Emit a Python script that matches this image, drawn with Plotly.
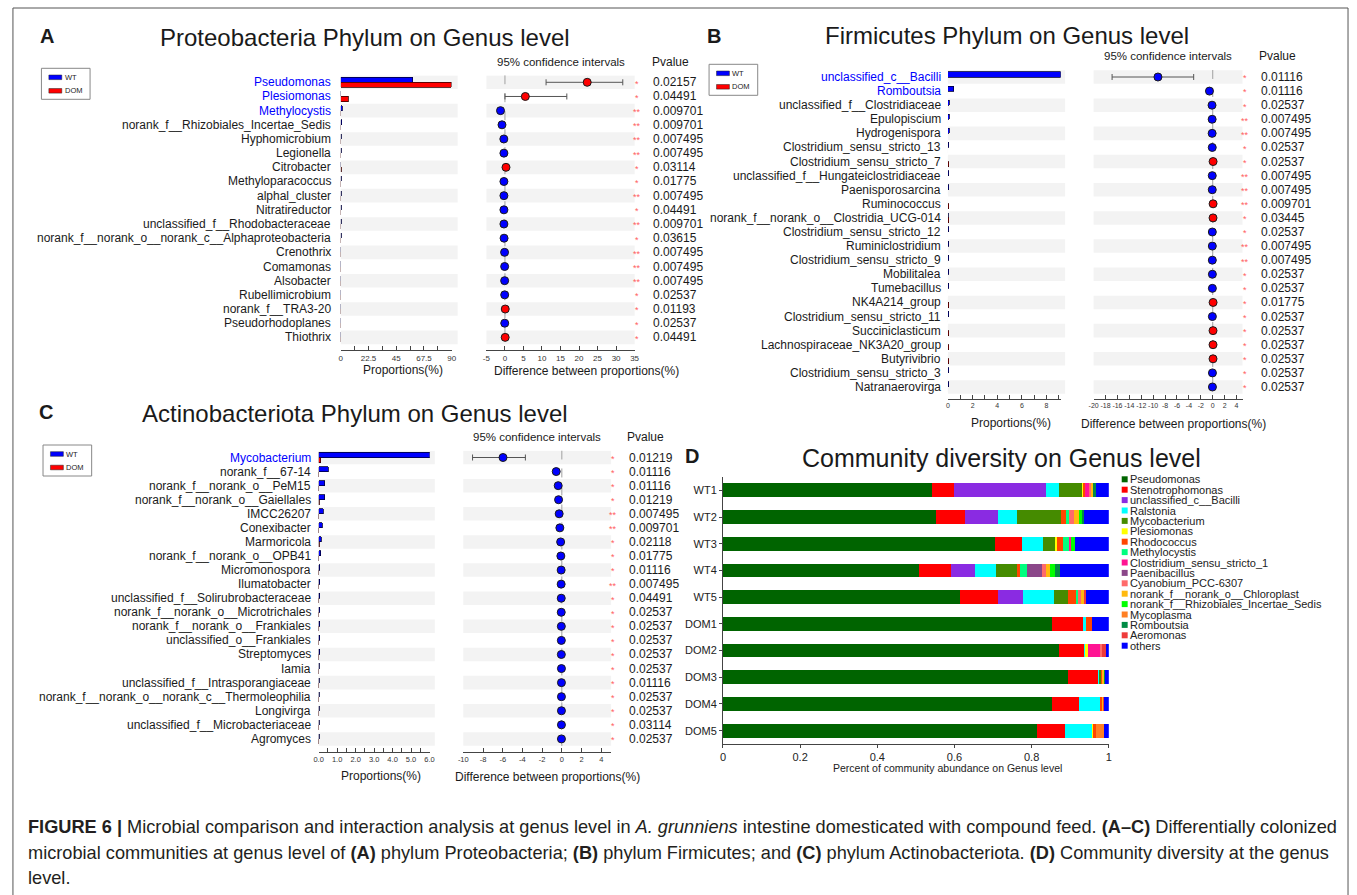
import plotly.graph_objects as go

W, H = 1357, 895
FONT = "Liberation Sans, Arial, Helvetica, sans-serif"
BLUE = "#0000FF"
RED = "#FF0000"
INK = "#1a1a1a"


def px(x):
    return x / W


def py(y):
    return 1 - y / H


# ---------------- Panel A: Proteobacteria ----------------
a_genus = ["Pseudomonas", "Plesiomonas", "Methylocystis", "norank_f__Rhizobiales_Incertae_Sedis",
           "Hyphomicrobium", "Legionella", "Citrobacter", "Methyloparacoccus", "alphal_cluster",
           "Nitratireductor", "unclassified_f__Rhodobacteraceae",
           "norank_f__norank_o__norank_c__Alphaproteobacteria", "Crenothrix", "Comamonas",
           "Alsobacter", "Rubellimicrobium", "norank_f__TRA3-20", "Pseudorhodoplanes", "Thiothrix"]
a_wt = [58.2, 0.1, 1.3, 0.8, 0.35, 0.3, 0.02, 0.3, 0.3, 0.3, 0.3, 0.25, 0.1, 0.08, 0.08, 0.07, 0.0, 0.06, 0.0]
a_dom = [89.8, 6.2, 0.05, 0.03, 0.02, 0.02, 0.3, 0.01, 0.01, 0.01, 0.01, 0.01, 0.0, 0.0, 0.0, 0.0, 0.08, 0.0, 0.06]
a_diff = [22.2, 5.5, -1.2, -0.8, -0.3, -0.28, 0.28, -0.28, -0.28, -0.28, -0.28, -0.24, -0.1, -0.08,
          -0.08, -0.07, 0.08, -0.06, 0.06]
a_lo = [11.1, 0.0, -1.9, -1.3, -0.5, -0.45, 0.1, -0.45, -0.45, -0.45, -0.45, -0.4, -0.18, -0.14,
        -0.14, -0.12, 0.02, -0.11, 0.01]
a_hi = [31.8, 16.7, -0.5, -0.3, -0.1, -0.1, 0.45, -0.1, -0.1, -0.1, -0.1, -0.08, -0.02, -0.02,
        -0.02, -0.02, 0.14, -0.01, 0.11]
a_pval = ["0.02157", "0.04491", "0.009701", "0.009701", "0.007495", "0.007495", "0.03114", "0.01775",
          "0.007495", "0.04491", "0.009701", "0.03615", "0.007495", "0.007495", "0.007495", "0.02537",
          "0.01193", "0.02537", "0.04491"]
a_highlight = ["Pseudomonas", "Plesiomonas", "Methylocystis"]
a_ticks = [0, 11.25, 22.5, 33.75, 45, 56.25, 67.5, 78.75, 90]
a_ticklabels = ["0", "", "22.5", "", "45", "", "67.5", "", "90"]
a_ci_ticks = [-5, 0, 5, 10, 15, 20, 25, 30, 35]

# ---------------- Panel B: Firmicutes ----------------
b_genus = ["unclassified_c__Bacilli", "Romboutsia", "unclassified_f__Clostridiaceae", "Epulopiscium",
           "Hydrogenispora", "Clostridium_sensu_stricto_13", "Clostridium_sensu_stricto_7",
           "unclassified_f__Hungateiclostridiaceae", "Paenisporosarcina", "Ruminococcus",
           "norank_f__norank_o__Clostridia_UCG-014", "Clostridium_sensu_stricto_12", "Ruminiclostridium",
           "Clostridium_sensu_stricto_9", "Mobilitalea", "Tumebacillus", "NK4A214_group",
           "Clostridium_sensu_stricto_11", "Succiniclasticum", "Lachnospiraceae_NK3A20_group",
           "Butyrivibrio", "Clostridium_sensu_stricto_3", "Natranaerovirga"]
b_wt = [9.15, 0.48, 0.12, 0.1, 0.1, 0.08, 0.0, 0.08, 0.08, 0.0, 0.03, 0.07, 0.07, 0.07, 0.06, 0.06,
        0.0, 0.06, 0.0, 0.0, 0.0, 0.05, 0.05]
b_dom = [0.0, 0.0, 0.0, 0.0, 0.0, 0.0, 0.06, 0.0, 0.0, 0.06, 0.08, 0.0, 0.0, 0.0, 0.0, 0.0,
         0.06, 0.0, 0.05, 0.05, 0.05, 0.0, 0.0]
b_diff = [-9.2, -0.55, -0.12, -0.1, -0.1, -0.08, 0.06, -0.08, -0.08, 0.06, 0.05, -0.07, -0.07, -0.07,
          -0.06, -0.06, 0.06, -0.06, 0.05, 0.05, 0.05, -0.05, -0.05]
b_lo = [-16.9, -0.85, -0.2, -0.17, -0.17, -0.14, 0.02, -0.14, -0.14, 0.02, 0.01, -0.12, -0.12, -0.12,
        -0.1, -0.1, 0.02, -0.1, 0.01, 0.01, 0.01, -0.09, -0.09]
b_hi = [-3.2, -0.25, -0.04, -0.03, -0.03, -0.02, 0.1, -0.02, -0.02, 0.1, 0.09, -0.02, -0.02, -0.02,
        -0.02, -0.02, 0.1, -0.02, 0.09, 0.09, 0.09, -0.01, -0.01]
b_pval = ["0.01116", "0.01116", "0.02537", "0.007495", "0.007495", "0.02537", "0.02537", "0.007495",
          "0.007495", "0.009701", "0.03445", "0.02537", "0.007495", "0.007495", "0.02537", "0.02537",
          "0.01775", "0.02537", "0.02537", "0.02537", "0.02537", "0.02537", "0.02537"]
b_highlight = ["unclassified_c__Bacilli", "Romboutsia"]
b_ticks = [0, 1, 2, 3, 4, 5, 6, 7, 8, 9]
b_ticklabels = ["0", "", "2", "", "4", "", "6", "", "8", ""]
b_ci_ticks = [-20, -18, -16, -14, -12, -10, -8, -6, -4, -2, 0, 2, 4]

# ---------------- Panel C: Actinobacteriota ----------------
c_genus = ["Mycobacterium", "norank_f__67-14", "norank_f__norank_o__PeM15", "norank_f__norank_o__Gaiellales",
           "IMCC26207", "Conexibacter", "Marmoricola", "norank_f__norank_o__OPB41", "Micromonospora",
           "Ilumatobacter", "unclassified_f__Solirubrobacteraceae", "norank_f__norank_o__Microtrichales",
           "norank_f__norank_o__Frankiales", "unclassified_o__Frankiales", "Streptomyces", "Iamia",
           "unclassified_f__Intrasporangiaceae", "norank_f__norank_o__norank_c__Thermoleophilia",
           "Longivirga", "unclassified_f__Microbacteriaceae", "Agromyces"]
c_wt = [6.0, 0.52, 0.34, 0.32, 0.25, 0.18, 0.13, 0.1, 0.07, 0.07, 0.06, 0.06, 0.05, 0.05, 0.05, 0.04,
        0.04, 0.04, 0.04, 0.04, 0.04]
c_dom = [0.12, 0.01, 0.0, 0.03, 0.0, 0.0, 0.04, 0.0, 0.0, 0.0, 0.0, 0.0, 0.0, 0.0, 0.0, 0.0,
         0.0, 0.0, 0.0, 0.0, 0.0]
c_diff = [-5.97, -0.57, -0.37, -0.33, -0.27, -0.2, -0.12, -0.1, -0.07, -0.07, -0.06, -0.06, -0.05,
          -0.05, -0.05, -0.04, -0.04, -0.04, -0.04, -0.04, -0.04]
c_lo = [-9.06, -0.78, -0.5, -0.46, -0.38, -0.29, -0.18, -0.15, -0.11, -0.11, -0.1, -0.1, -0.08,
        -0.08, -0.08, -0.07, -0.07, -0.07, -0.07, -0.07, -0.07]
c_hi = [-3.7, -0.36, -0.24, -0.2, -0.16, -0.11, -0.06, -0.05, -0.03, -0.03, -0.02, -0.02, -0.02,
        -0.02, -0.02, -0.01, -0.01, -0.01, -0.01, -0.01, -0.01]
c_pval = ["0.01219", "0.01116", "0.01116", "0.01219", "0.007495", "0.009701", "0.02118", "0.01775",
          "0.01116", "0.007495", "0.04491", "0.02537", "0.02537", "0.02537", "0.02537", "0.02537",
          "0.01116", "0.02537", "0.02537", "0.03114", "0.02537"]
c_highlight = ["Mycobacterium"]
c_ticks = [0, 0.5, 1, 1.5, 2, 2.5, 3, 3.5, 4, 4.5, 5, 5.5, 6]
c_ticklabels = ["0.0", "", "1.0", "", "2.0", "", "3.0", "", "4.0", "", "5.0", "", "6.0"]
c_ci_ticks = [-10, -8, -6, -4, -2, 0, 2, 4]

# ---------------- Panel D: community composition ----------------
d_samples = ["WT1", "WT2", "WT3", "WT4", "WT5", "DOM1", "DOM2", "DOM3", "DOM4", "DOM5"]
d_genus = ["Pseudomonas", "Stenotrophomonas", "unclassified_c__Bacilli", "Ralstonia", "Mycobacterium",
           "Plesiomonas", "Rhodococcus", "Methylocystis", "Clostridium_sensu_stricto_1", "Paenibacillus",
           "Cyanobium_PCC-6307", "norank_f__norank_o__Chloroplast", "norank_f__Rhizobiales_Incertae_Sedis",
           "Mycoplasma", "Romboutsia", "Aeromonas", "others"]
d_colors = ["#006400", "#FF0000", "#8A2BE2", "#00FFFF", "#458B00", "#FFFF00", "#FF4500", "#00FF7F",
            "#FF1493", "#8B4789", "#FF6A6A", "#FFB90F", "#00FF00", "#FF7F24", "#008B45", "#EE3B3B", "#0000FF"]
d_pseudomonas = [0.542, 0.553, 0.704, 0.508, 0.614, 0.853, 0.870, 0.895, 0.853, 0.814]
d_stenotrophomonas = [0.057, 0.075, 0.072, 0.084, 0.098, 0.080, 0.066, 0.078, 0.070, 0.073]
d_bacilli = [0.239, 0.086, 0.0, 0.061, 0.065, 0.0, 0.0, 0.0, 0.0, 0.0]
d_ralstonia = [0.032, 0.048, 0.053, 0.055, 0.082, 0.009, 0.004, 0.004, 0.056, 0.071]
d_mycobacterium = [0.062, 0.115, 0.033, 0.054, 0.036, 0.0, 0.0, 0.003, 0.0, 0.0]
d_plesiomonas = [0.002, 0.0, 0.003, 0.0, 0.0, 0.0, 0.005, 0.0, 0.0, 0.003]
d_rhodococcus = [0.005, 0.012, 0.015, 0.008, 0.021, 0.014, 0.0, 0.002, 0.005, 0.005]
d_methylocystis = [0.0, 0.008, 0.018, 0.019, 0.004, 0.0, 0.0, 0.0, 0.0, 0.0]
d_clostridium_1 = [0.012, 0.0, 0.004, 0.0, 0.0, 0.0, 0.033, 0.0, 0.0, 0.0]
d_paenibacillus = [0.0, 0.0, 0.0, 0.039, 0.0, 0.0, 0.0, 0.0, 0.0, 0.0]
d_cyanobium = [0.005, 0.014, 0.0, 0.009, 0.009, 0.0, 0.005, 0.0, 0.0, 0.0]
d_chloroplast = [0.004, 0.012, 0.0, 0.010, 0.008, 0.0, 0.0, 0.006, 0.003, 0.0]
d_rhizobiales = [0.0, 0.007, 0.010, 0.013, 0.0, 0.0, 0.0, 0.0, 0.0, 0.0]
d_mycoplasma = [0.0, 0.0, 0.0, 0.0, 0.0, 0.0, 0.0, 0.0, 0.0, 0.021]
d_romboutsia = [0.006, 0.006, 0.0, 0.013, 0.0, 0.0, 0.0, 0.002, 0.0, 0.0]
d_aeromonas = [0.0, 0.0, 0.0, 0.0, 0.003, 0.0, 0.010, 0.0, 0.001, 0.0]
d_others = [0.034, 0.064, 0.088, 0.127, 0.060, 0.044, 0.007, 0.010, 0.012, 0.013]
d_values = [d_pseudomonas, d_stenotrophomonas, d_bacilli, d_ralstonia, d_mycobacterium, d_plesiomonas,
            d_rhodococcus, d_methylocystis, d_clostridium_1, d_paenibacillus, d_cyanobium, d_chloroplast,
            d_rhizobiales, d_mycoplasma, d_romboutsia, d_aeromonas, d_others]
d_ticks = [0, 0.2, 0.4, 0.6, 0.8, 1.0]
d_ticklabels = ["0", "0.2", "0.4", "0.6", "0.8", "1"]

fig = go.Figure()
layout = dict(
    width=W, height=H, margin=dict(l=0, r=0, t=0, b=0),
    paper_bgcolor="white", plot_bgcolor="rgba(0,0,0,0)",
    barmode="stack", showlegend=False,
    font=dict(family=FONT, color=INK),
)
shapes = []
annotations = []


def text(x, y, s, size, xanchor="center", color=INK, yref=None, bold=False, family=FONT):
    if bold:
        s = "<b>" + s + "</b>"
    annotations.append(dict(
        x=px(x), y=(py(y) if yref is None else y), xref="paper", yref=(yref or "paper"),
        text=s, showarrow=False, xanchor=xanchor, yanchor="middle", borderpad=0,
        font=dict(size=size, color=color, family=family)))


def axis_style(**kw):
    base = dict(showgrid=False, zeroline=False, showline=True, linecolor="#444", linewidth=1,
                ticks="inside", ticklen=4, tickcolor="#444", tickwidth=1, fixedrange=True,
                tickangle=0)
    base.update(kw)
    return base


def plain_labels(values):
    # hyphen-minus labels, as printed by the original plotting tool
    return [("%g" % v) for v in values]


def stamp_panel(n_ax, genus, wt, dom, diff, lo, hi, pval, highlight, geo):
    xb, xc, yy = f"x{n_ax[0]}", f"x{n_ax[1]}", f"y{n_ax[2]}"
    xb_key, xc_key, yy_key = f"xaxis{n_ax[0]}", f"xaxis{n_ax[1]}", f"yaxis{n_ax[2]}"
    n = len(genus)
    rows = list(range(n))
    top = geo["yc0"] - 0.5 * geo["s"]
    bottom = geo["yc0"] + (n - 1 + geo["gap"]) * geo["s"]

    layout[yy_key] = dict(domain=[py(bottom), py(top)], range=[n - 1 + geo["gap"], -0.5],
                          visible=False, anchor=xb, fixedrange=True)
    layout[xb_key] = axis_style(domain=[px(geo["bx0"]), px(geo["bx1"])], range=geo["brange"],
                                anchor=yy, tickvals=geo["bticks"], ticktext=geo["blabels"],
                                tickfont=dict(size=geo["tfs"], color="#333"))
    layout[xc_key] = axis_style(domain=[px(geo["cx0"]), px(geo["cx1"])], range=geo["crange"],
                                anchor=yy, tickvals=geo["cticks"], ticktext=plain_labels(geo["cticks"]),
                                tickfont=dict(size=geo["tfs"], color="#333"))

    # alternating row shading
    for i in range(0, n, 2):
        for x0, x1 in ((geo["bx0"], geo["bband"]), (geo["cx0"], geo["cx1"])):
            shapes.append(dict(type="rect", xref="paper", yref=yy, x0=px(x0), x1=px(x1),
                               y0=i - 0.48, y1=i + 0.48, fillcolor="#F3F3F3",
                               line=dict(width=0), layer="below"))
    # zero reference for the differences
    shapes.append(dict(type="line", xref=xc, yref=yy, x0=0, x1=0, y0=-0.5, y1=n - 0.5,
                       line=dict(color="#A0A0A0", width=1, dash="dash"), layer="below"))

    fig.add_trace(go.Bar(x=wt, y=[r - 0.18 for r in rows], orientation="h", width=0.36,
                         marker=dict(color=BLUE, line=dict(color="#00003a", width=0.8)),
                         xaxis=xb, yaxis=yy, name="WT"))
    fig.add_trace(go.Bar(x=dom, y=[r + 0.18 for r in rows], orientation="h", width=0.36,
                         marker=dict(color=RED, line=dict(color="#3a0000", width=0.8)),
                         xaxis=xb, yaxis=yy, name="DOM"))
    fig.add_trace(go.Scatter(
        x=diff, y=rows, mode="markers", xaxis=xc, yaxis=yy, cliponaxis=False,
        marker=dict(size=8, color=[RED if d > 0 else BLUE for d in diff],
                    line=dict(color="#1a1a1a", width=1)),
        error_x=dict(type="data", symmetric=False,
                     array=[h - d for h, d in zip(hi, diff)],
                     arrayminus=[d - l for d, l in zip(diff, lo)],
                     color="#555", thickness=1, width=3)))

    for i, g in enumerate(genus):
        col = BLUE if g in highlight else INK
        text(geo["lx"], i, g, 12, xanchor="right", color=col, yref=yy)
        p = float(pval[i])
        text(geo["sx"], i + 0.1, "**" if p < 0.01 else "*", 9, color="#FF6060", yref=yy)
        text(geo["pvx"], i, pval[i], 12, xanchor="left", yref=yy)

    text((geo["cx0"] + geo["cx1"]) / 2, geo["hy"], "95% confidence intervals", 11.5)
    text(geo["pvx"] + 18, geo["hy"], "Pvalue", 12)
    text((geo["bx0"] + geo["bband"]) / 2 + 4, geo["ty"], "Proportions(%)", 12)
    text(geo["dcx"], geo["ty"] + 1, "Difference between proportions(%)", 12)

    # WT / DOM key
    lx0, ly0 = geo["key"]
    shapes.append(dict(type="rect", xref="paper", yref="paper", x0=px(lx0), x1=px(lx0 + 49),
                       y0=py(ly0), y1=py(ly0 + 31), line=dict(color="#888", width=1),
                       fillcolor="white"))
    for k, (lab, colr) in enumerate((("WT", BLUE), ("DOM", RED))):
        yc = ly0 + 9 + 13.5 * k
        shapes.append(dict(type="rect", xref="paper", yref="paper", x0=px(lx0 + 7.5),
                           x1=px(lx0 + 20.5), y0=py(yc - 2.3), y1=py(yc + 2.3),
                           fillcolor=colr, line=dict(color="#222", width=0.5)))
        text(lx0 + 22.5, yc, lab, 7.5, xanchor="left", color="#222")


stamp_panel((1, 2, 1), a_genus, a_wt, a_dom, a_diff, a_lo, a_hi, a_pval, a_highlight, dict(
    yc0=82.3, s=14.17, gap=0.9, bx0=338.3, bx1=450, brange=[0, 90], bband=456,
    bticks=a_ticks, blabels=a_ticklabels, cx0=485, cx1=634.3, crange=[-5, 35], cticks=a_ci_ticks,
    tfs=8, lx=329.5, sx=637, pvx=652, hy=61.7, ty=370, dcx=586, key=(36.7, 68.3)))

stamp_panel((3, 4, 2), b_genus, b_wt, b_dom, b_diff, b_lo, b_hi, b_pval, b_highlight, dict(
    yc0=77.0, s=14.09, gap=0.85, bx0=950, bx1=1063.5, brange=[0, 9.15], bband=1068,
    bticks=b_ticks, blabels=b_ticklabels, cx0=1096.7, cx1=1246.7, crange=[-20, 5], cticks=b_ci_ticks,
    tfs=7, lx=943.5, sx=1249, pvx=1264, hy=55.7, ty=423, dcx=1177, key=(709.3, 64.3)))

stamp_panel((5, 6, 3), c_genus, c_wt, c_dom, c_diff, c_lo, c_hi, c_pval, c_highlight, dict(
    yc0=457.5, s=14.07, gap=0.9, bx0=316, bx1=427.7, brange=[0, 6], bband=433,
    bticks=c_ticks, blabels=c_ticklabels, cx0=461.7, cx1=610.6, crange=[-10, 5], cticks=c_ci_ticks,
    tfs=7.5, lx=309.5, sx=612.7, pvx=627.7, hy=436.7, ty=776, dcx=547, key=(38.3, 445)))

# ---------------- Panel D traces ----------------
layout["yaxis4"] = axis_style(domain=[py(744), py(477)], range=[9.5, -0.5], anchor="x7",
                              tickvals=list(range(len(d_samples))), ticktext=d_samples,
                              ticks="outside", ticklen=3, tickfont=dict(size=11, color="#222"))
layout["xaxis7"] = axis_style(domain=[px(723.3), px(1112)], range=[0, 1], anchor="y4",
                              tickvals=d_ticks, ticktext=d_ticklabels, ticks="outside", ticklen=3,
                              tickfont=dict(size=11, color="#222"))
for name, vals, colr in zip(d_genus, d_values, d_colors):
    fig.add_trace(go.Bar(x=vals, y=list(range(len(d_samples))), orientation="h", width=0.52,
                         marker=dict(color=colr, line=dict(width=0)), name=name,
                         xaxis="x7", yaxis="y4"))
text(950, 768, "Percent of community abundance on Genus level", 10.5, color="#222")
for k, (name, colr) in enumerate(zip(d_genus, d_colors)):
    yc = 479.3 + 10.4 * k
    shapes.append(dict(type="rect", xref="paper", yref="paper", x0=px(1125), x1=px(1131),
                       y0=py(yc - 3), y1=py(yc + 3), fillcolor=colr, line=dict(width=0)))
    text(1132.5, yc, name, 11, xanchor="left", color="#222")

# ---------------- titles & panel letters ----------------
text(363, 38, "Proteobacteria Phylum on Genus level", 24)
text(1009.5, 36, "Firmicutes Phylum on Genus level", 24)
text(353, 413, "Actinobacteriota Phylum on Genus level", 24)
text(1004, 458, "Community diversity on Genus level", 25)
text(42.5, 36, "A", 20, bold=True)
text(714, 36, "B", 20, bold=True)
text(41, 412, "C", 20, bold=True)
text(692, 455.5, "D", 20, bold=True)

# ---------------- caption ----------------
CAP = "#231F20"
CAP_SIZE = 18.2
text(22, 827, "<b>FIGURE 6 |</b> Microbial comparison and interaction analysis at genus level in "
     "<i>A. grunniens</i> intestine domesticated with compound feed. <b>(A–C)</b> Differentially colonized",
     CAP_SIZE, xanchor="left", color=CAP)
text(22, 853, "microbial communities at genus level of <b>(A)</b> phylum Proteobacteria; <b>(B)</b> phylum "
     "Firmicutes; and <b>(C)</b> phylum Actinobacteriota. <b>(D)</b> Community diversity at the genus",
     CAP_SIZE, xanchor="left", color=CAP)
text(22, 878, "level.", CAP_SIZE, xanchor="left", color=CAP)

# outer frame
shapes.append(dict(type="rect", xref="paper", yref="paper", x0=px(8), x1=px(1353), y0=py(905), y1=py(8),
                   line=dict(color="#555", width=1), fillcolor="rgba(0,0,0,0)"))

layout["shapes"] = shapes
layout["annotations"] = annotations
fig.update_layout(**layout)
fig.write_html("out.html")
